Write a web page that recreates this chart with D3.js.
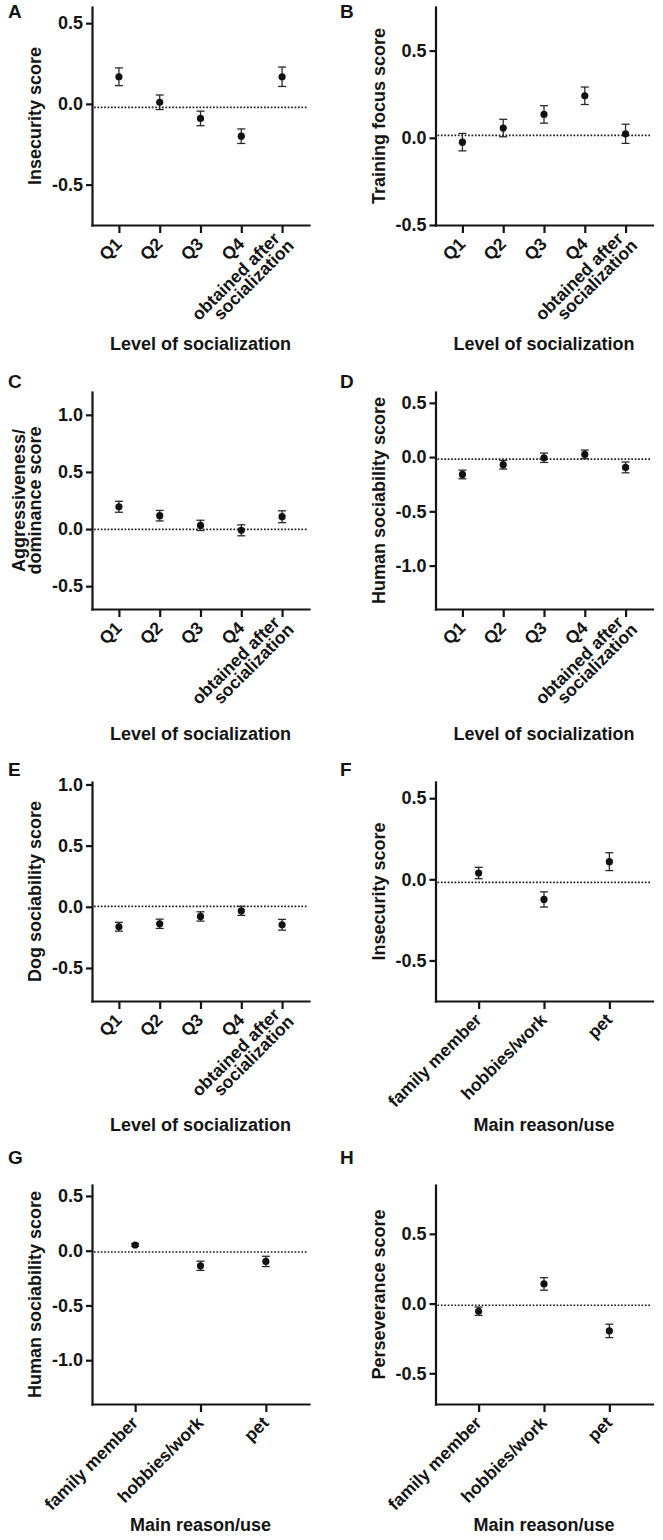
<!DOCTYPE html>
<html>
<head>
<meta charset="utf-8">
<script src="https://cdn.jsdelivr.net/npm/d3@7"></script>
<style>
  body { margin: 0; background: #fff; }
  svg { display: block; font-family: "Liberation Sans", Arial, Helvetica, sans-serif; font-weight: bold; }
  text { fill: #141414; }
</style>
</head>
<body>
<svg id="fig" width="663" height="1540"></svg>
<script>
(function(){
"use strict";

// categories ("|" splits a label over two lines)
const levelCats  = ["Q1", "Q2", "Q3", "Q4", "obtained after|socialization"];
const reasonCats = ["family member", "hobbies/work", "pet"];

// means and error bars
const insecurityLevel      = [0.168, 0.010, -0.090, -0.200, 0.168];
const insecurityLevelErr   = [0.055, 0.045, 0.045, 0.045, 0.060];
const trainingLevel        = [-0.025, 0.056, 0.134, 0.241, 0.023];
const trainingLevelErr     = [0.050, 0.050, 0.050, 0.050, 0.055];
const aggressLevel         = [0.195, 0.117, 0.032, -0.011, 0.108];
const aggressLevelErr      = [0.048, 0.046, 0.045, 0.048, 0.052];
const humanSocLevel        = [-0.160, -0.070, -0.006, 0.025, -0.095];
const humanSocLevelErr     = [0.040, 0.040, 0.043, 0.040, 0.050];
const dogSocLevel          = [-0.163, -0.139, -0.079, -0.033, -0.147];
const dogSocLevelErr       = [0.036, 0.038, 0.038, 0.037, 0.044];
const insecurityReason     = [0.039, -0.124, 0.109];
const insecurityReasonErr  = [0.035, 0.047, 0.055];
const humanSocReason       = [0.052, -0.138, -0.098];
const humanSocReasonErr    = [0.012, 0.042, 0.047];
const perseveranceReason   = [-0.055, 0.141, -0.196];
const perseveranceReasonErr= [0.030, 0.045, 0.048];

// dotted reference lines (overall means)
const refValues = [-0.022, 0.014, -0.003, -0.018, 0.003, -0.019, -0.012, -0.012];

// y ticks
const ticksHalf = [-0.5, 0, 0.5];
const ticksHigh = [-0.5, 0, 0.5, 1.0];
const ticksLow  = [-1.0, -0.5, 0, 0.5];

// layout
const colLeft  = [92, 435.5];
const colRight = [309, 652.5];
const letterX  = [8, 340];
const rowTop    = [7, 392, 782, 1185];
const rowBottom = [225, 609, 1001, 1404];
const titleBase = [350, 740, 1131, 1531];
const letterBase = [18, 388, 776, 1164];

const panels = [
  {id:"A", col:0, row:0, cats:levelCats,  mean:insecurityLevel,    err:insecurityLevelErr,    domain:[-0.75, 0.6],  ticks:ticksHalf, ylab:["Insecurity score"],                   xlab:"Level of socialization"},
  {id:"B", col:1, row:0, cats:levelCats,  mean:trainingLevel,      err:trainingLevelErr,      domain:[-0.5, 0.75],  ticks:ticksHalf, ylab:["Training focus score"],               xlab:"Level of socialization"},
  {id:"C", col:0, row:1, cats:levelCats,  mean:aggressLevel,       err:aggressLevelErr,       domain:[-0.7, 1.2],   ticks:ticksHigh, ylab:["Aggressiveness/", "dominance score"], xlab:"Level of socialization"},
  {id:"D", col:1, row:1, cats:levelCats,  mean:humanSocLevel,      err:humanSocLevelErr,      domain:[-1.4, 0.6],   ticks:ticksLow,  ylab:["Human sociability score"],            xlab:"Level of socialization"},
  {id:"E", col:0, row:2, cats:levelCats,  mean:dogSocLevel,        err:dogSocLevelErr,        domain:[-0.77, 1.02], ticks:ticksHigh, ylab:["Dog sociability score"],              xlab:"Level of socialization"},
  {id:"F", col:1, row:2, cats:reasonCats, mean:insecurityReason,   err:insecurityReasonErr,   domain:[-0.75, 0.6],  ticks:ticksHalf, ylab:["Insecurity score"],                   xlab:"Main reason/use"},
  {id:"G", col:0, row:3, cats:reasonCats, mean:humanSocReason,     err:humanSocReasonErr,     domain:[-1.4, 0.6],   ticks:ticksLow,  ylab:["Human sociability score"],            xlab:"Main reason/use"},
  {id:"H", col:1, row:3, cats:reasonCats, mean:perseveranceReason, err:perseveranceReasonErr, domain:[-0.72, 0.85], ticks:ticksHalf, ylab:["Perseverance score"],                 xlab:"Main reason/use"}
];

const svg = d3.select("#fig");
const fmt = d => d3.format(".1f")(d).replace("\u2212", "-");
const ink = "#141414";

function drawPanel(p, pi){
  const x0 = colLeft[p.col], x1 = colRight[p.col];
  const y0 = rowTop[p.row], y1 = rowBottom[p.row];

  const x = d3.scalePoint().domain(p.cats).range([x0, x1]).padding(0.66);
  const y = d3.scaleLinear().domain(p.domain).range([y1, y0]);

  const g = svg.append("g").attr("class", "panel");

  // axes
  let ya = g.append("g")
    .attr("transform", `translate(${x0},0)`)
    .call(d3.axisLeft(y).tickValues(p.ticks).tickFormat(fmt).tickSize(6).tickPadding(3).tickSizeOuter(0));
  let xa = g.append("g")
    .attr("transform", `translate(0,${y1})`)
    .call(d3.axisBottom(x).tickSize(8).tickFormat("").tickSizeOuter(0));
  [ya, xa].forEach(a => {
    a.attr("font-family", null).attr("font-size", null);
    a.select(".domain").attr("stroke", ink).attr("stroke-width", 2.2).attr("stroke-linecap", "square");
    a.selectAll(".tick line").attr("stroke", ink).attr("stroke-width", 2.2);
  });
  ya.selectAll(".tick text").attr("font-size", 18).attr("fill", ink);

  // dotted reference line
  g.append("line")
    .attr("x1", x0 + 2).attr("x2", x1 - 2)
    .attr("y1", y(refValues[pi])).attr("y2", y(refValues[pi]))
    .attr("stroke", "#1e1e1e").attr("stroke-width", 1.7)
    .attr("stroke-dasharray", "1.7 1.7");

  // error bars + means
  const pts = p.cats.map((c, i) => ({c, m: p.mean[i], e: p.err[i]}));
  const eb = g.selectAll(".eb").data(pts).join("g").attr("class", "eb").attr("stroke", "#2a2a2a").attr("stroke-width", 1.3);
  eb.append("line").attr("x1", d => x(d.c)).attr("x2", d => x(d.c))
    .attr("y1", d => y(d.m - d.e)).attr("y2", d => y(d.m + d.e));
  eb.append("line").attr("x1", d => x(d.c) - 4).attr("x2", d => x(d.c) + 4)
    .attr("y1", d => y(d.m + d.e)).attr("y2", d => y(d.m + d.e));
  eb.append("line").attr("x1", d => x(d.c) - 4).attr("x2", d => x(d.c) + 4)
    .attr("y1", d => y(d.m - d.e)).attr("y2", d => y(d.m - d.e));
  g.selectAll(".pt").data(pts).join("circle").attr("class", "pt")
    .attr("cx", d => x(d.c)).attr("cy", d => y(d.m)).attr("r", 3.6).attr("fill", "#111");

  // rotated category labels
  g.selectAll(".xl").data(p.cats).join("text").attr("class", "xl")
    .attr("transform", d => `translate(${x(d) + 4},${y1 + 20}) rotate(-45)`)
    .attr("text-anchor", "end").attr("font-size", 17.5)
    .each(function(d){
      const lines = d.split("|");
      const t = d3.select(this);
      lines.forEach((s, i) => {
        t.append("tspan")
          .attr("x", lines.length > 1 && i > 0 ? 5 : 0)
          .attr("y", lines.length > 1 ? (i === 0 ? -7.5 : 7.5) : 0)
          .text(s);
      });
    });

  // y title
  const ymid = (y0 + y1) / 2;
  p.ylab.forEach((s, i) => {
    const xx = x0 - 57 - (p.ylab.length - 1 - i) * 16;
    g.append("text")
      .attr("transform", `translate(${xx},${ymid}) rotate(-90)`)
      .attr("text-anchor", "middle").attr("dy", "0.35em")
      .attr("font-size", 18).text(s);
  });

  // x title
  g.append("text")
    .attr("x", (x0 + x1) / 2).attr("y", titleBase[p.row])
    .attr("text-anchor", "middle").attr("font-size", 18).text(p.xlab);

  // panel letter
  g.append("text")
    .attr("x", letterX[p.col]).attr("y", letterBase[p.row])
    .attr("font-size", 19).text(p.id);
}

panels.forEach(drawPanel);

})();
</script>
</body>
</html>
